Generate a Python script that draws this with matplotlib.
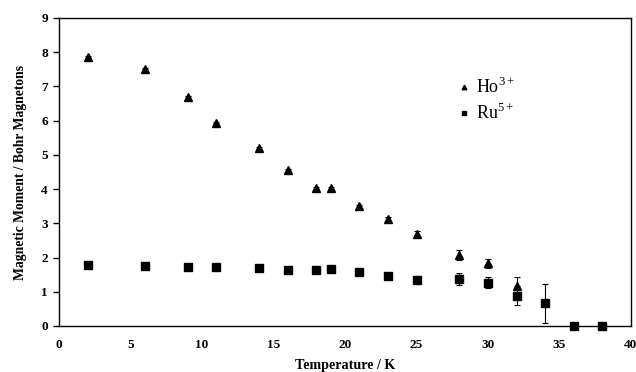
import matplotlib
matplotlib.use("Agg")
import matplotlib.pyplot as plt

temps_ho = [2, 6, 9, 11, 14, 16, 18, 19, 21, 23, 25, 28, 30, 32]
ho_vals = [7.86, 7.52, 6.68, 5.93, 5.21, 4.56, 4.02, 4.04, 3.50, 3.13, 2.70, 2.08, 1.83, 1.18]
ho_err = [0.03, 0.03, 0.03, 0.03, 0.03, 0.03, 0.03, 0.03, 0.05, 0.05, 0.07, 0.15, 0.13, 0.25]

temps_ru = [2, 6, 9, 11, 14, 16, 18, 19, 21, 23, 25, 28, 30, 32, 34, 36, 38]
ru_vals = [1.78, 1.74, 1.72, 1.71, 1.69, 1.65, 1.63, 1.67, 1.59, 1.45, 1.35, 1.37, 1.26, 0.88, 0.66, 0.0, 0.0]
ru_err = [0.03, 0.03, 0.05, 0.05, 0.05, 0.05, 0.06, 0.06, 0.08, 0.08, 0.1, 0.18, 0.16, 0.28, 0.56, 0.0, 0.0]

xticks = [0, 5, 10, 15, 20, 25, 30, 35, 40]
yticks = [0, 1, 2, 3, 4, 5, 6, 7, 8, 9]

plt.rcParams['font.family'] = ['Liberation Serif', 'DejaVu Serif']
plt.rcParams['mathtext.fontset'] = 'custom'
plt.rcParams['mathtext.rm'] = 'Liberation Serif'

fig = plt.figure(figsize=(6.36, 3.72), dpi=100)
ax = fig.add_axes([59/636, 1-326/372, (631-59)/636, (326-18)/372])

ax.errorbar(temps_ho, ho_vals, yerr=ho_err, fmt='^', color='black', markersize=5.5,
            ecolor='black', elinewidth=0.8, capsize=2.5, capthick=0.8, label='Ho$^{\\mathregular{3+}}$', clip_on=False)
ax.errorbar(temps_ru, ru_vals, yerr=ru_err, fmt='s', color='black', markersize=5.5,
            ecolor='black', elinewidth=0.8, capsize=2.5, capthick=0.8, label='Ru$^{\\mathregular{5+}}$', clip_on=False)

ax.set_xlim(0, 40)
ax.set_ylim(0, 9)
ax.set_xticks(xticks)
ax.set_yticks(yticks)
ax.tick_params(axis='x', length=0, pad=9, labelsize=9.5)
ax.tick_params(axis='y', length=4, width=1, pad=4, labelsize=9.5)
for lab in ax.get_xticklabels() + ax.get_yticklabels():
    lab.set_fontweight('bold')
for s in ax.spines.values():
    s.set_linewidth(1.0)

ax.set_xlabel('Temperature / K', fontsize=10.2, fontweight='bold', labelpad=6)
ax.set_ylabel('Magnetic Moment / Bohr Magnetons', fontsize=9.8, fontweight='bold', labelpad=10)

handles, labels = ax.get_legend_handles_labels()
leg = ax.legend([h[0] for h in handles], labels, loc='upper left', bbox_to_anchor=(0.66, 0.86),
                frameon=False, fontsize=13, markerscale=0.6, handletextpad=0.1,
                handlelength=1.2, labelspacing=0.3)

fig.savefig('out.png', dpi=100)
